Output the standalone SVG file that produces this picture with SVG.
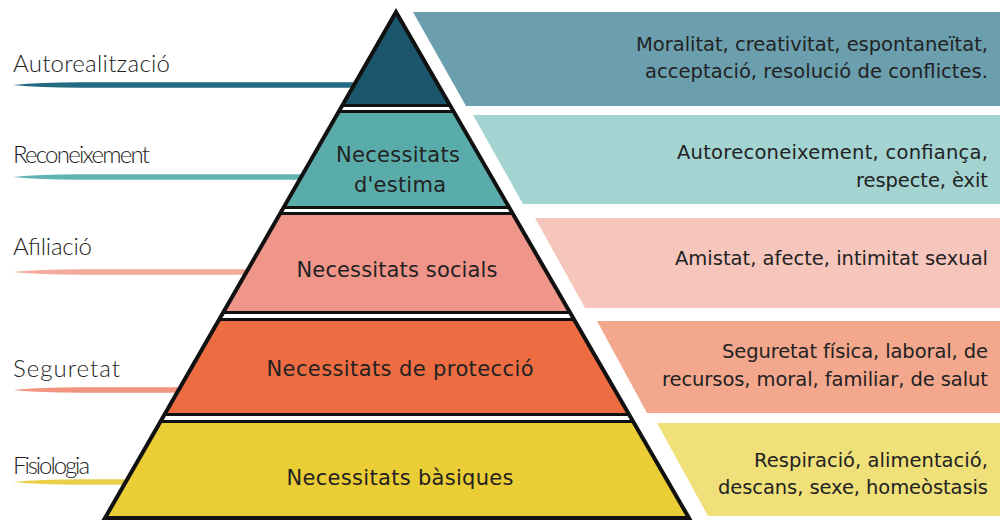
<svg xmlns="http://www.w3.org/2000/svg" width="1005" height="521" viewBox="0 0 1005 521">
<defs>
<style>
.hand{font-family:Lato,Inter,"DejaVu Sans",sans-serif;font-weight:300;font-size:24px;fill:#1e1e1e;}
.tier{font-family:"DejaVu Sans","Liberation Sans",sans-serif;font-size:21px;fill:#222;text-anchor:middle;}
.desc{font-family:"DejaVu Sans","Liberation Sans",sans-serif;font-size:19.5px;fill:#222;text-anchor:end;}
</style>
<clipPath id="tri"><polygon points="396,12 105,518 689,518"/></clipPath>
</defs>
<rect width="1005" height="521" fill="#ffffff"/>

<g id="labels">
<g id="label-autorealitzacio">
<path d="M13,85 Q40,82.3 80,82.3 L360,82.3 L360,87.7 L80,87.7 Q40,87.7 13,85 Z" fill="#236a80"/>
<text class="hand" x="13" y="72" textLength="157">Autorealització</text>
</g>
<g id="label-reconeixement">
<path d="M13,177 Q40,174.3 80,174.3 L305,174.3 L305,179.7 L80,179.7 Q40,179.7 13,177 Z" fill="#5fb3b0"/>
<text class="hand" x="13" y="163" textLength="137">Reconeixement</text>
</g>
<g id="label-afiliacio">
<path d="M13,272 Q40,269.3 80,269.3 L250,269.3 L250,274.7 L80,274.7 Q40,274.7 13,272 Z" fill="#f4aa9c"/>
<text class="hand" x="13" y="255" textLength="79">Afiliació</text>
</g>
<g id="label-seguretat">
<path d="M13,390 Q40,387.3 80,387.3 L182,387.3 L182,392.7 L80,392.7 Q40,392.7 13,390 Z" fill="#f2957e"/>
<text class="hand" x="13" y="377" textLength="107">Seguretat</text>
</g>
<g id="label-fisiologia">
<path d="M13,482 Q40,479.3 80,479.3 L130,479.3 L130,484.7 L80,484.7 Q40,484.7 13,482 Z" fill="#e9d048"/>
<text class="hand" x="13" y="474" textLength="77">Fisiologia</text>
</g>
</g>

<g id="pyramid">
<g clip-path="url(#tri)">
<rect x="90" y="0" width="620" height="530" fill="#111"/>
<rect id="tier1" x="90" y="0" width="620" height="104" fill="#1b566d"/>
<rect x="90" y="107" width="620" height="3" fill="#fff"/>
<rect id="tier2" x="90" y="113" width="620" height="93" fill="#5aacaa"/>
<rect x="90" y="209" width="620" height="3" fill="#fff"/>
<rect id="tier3" x="90" y="215" width="620" height="96" fill="#f0958a"/>
<rect x="90" y="314" width="620" height="4" fill="#fff"/>
<rect id="tier4" x="90" y="321" width="620" height="92" fill="#ee6c42"/>
<rect x="90" y="416" width="620" height="4" fill="#fff"/>
<rect id="tier5" x="90" y="423" width="620" height="107" fill="#ebcd35"/>
</g>
<polygon points="396,12 105,518 689,518" fill="none" stroke="#111" stroke-width="4" stroke-linejoin="miter"/>
<text class="tier" x="398" y="162" textLength="124">Necessitats</text>
<text class="tier" x="400" y="192" textLength="92">d'estima</text>
<text class="tier" x="397" y="277" textLength="201">Necessitats socials</text>
<text class="tier" x="400" y="376" textLength="267">Necessitats de protecció</text>
<text class="tier" x="400" y="485" textLength="227">Necessitats bàsiques</text>
</g>

<g id="panels">
<g id="panel1">
<polygon points="413,12 1000,12 1000,106 466,106" fill="#6b9fae"/>
<text class="desc" x="988" y="51" textLength="352">Moralitat, creativitat, espontaneïtat,</text>
<text class="desc" x="988" y="78" textLength="343">acceptació, resolució de conflictes.</text>
</g>
<g id="panel2">
<polygon points="473,115 1000,115 1000,204 523,204" fill="#a3d4d2"/>
<text class="desc" x="988" y="159" textLength="311">Autoreconeixement, confiança,</text>
<text class="desc" x="988" y="187" textLength="132">respecte, èxit</text>
</g>
<g id="panel3">
<polygon points="535,218 1000,218 1000,308 585,308" fill="#f6c6bd"/>
<text class="desc" x="988" y="265" textLength="313">Amistat, afecte, intimitat sexual</text>
</g>
<g id="panel4">
<polygon points="597,321 1000,321 1000,413 647,413" fill="#f3a78d"/>
<text class="desc" x="988" y="358" textLength="266">Seguretat física, laboral, de</text>
<text class="desc" x="988" y="386" textLength="326">recursos, moral, familiar, de salut</text>
</g>
<g id="panel5">
<polygon points="657,423 1000,423 1000,516 708,516" fill="#efe07a"/>
<text class="desc" x="988" y="467" textLength="234">Respiració, alimentació,</text>
<text class="desc" x="988" y="494" textLength="270">descans, sexe, homeòstasis</text>
</g>
</g>
</svg>
